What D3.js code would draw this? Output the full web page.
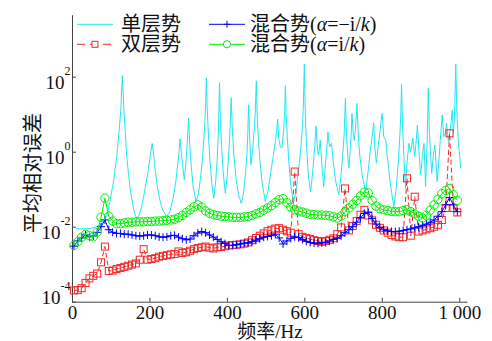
<!DOCTYPE html>
<html>
<head>
<meta charset="utf-8">
<script src="https://cdn.jsdelivr.net/npm/d3@7/dist/d3.min.js"></script>
<style>
  body { margin: 0; background: #fff; }
  svg { display: block; }
</style>
</head>
<body>
<div id="chart"></div>
<script>
// frequency grid of the three marker series (Hz)
const freq = [5,15,25,35,45,55,65,75,85,95,105,115,125,135,145,155,165,175,185,195,
  205,215,225,235,245,255,265,275,285,295,305,315,325,335,345,355,365,375,385,395,
  405,415,425,435,445,455,465,475,485,495,505,515,525,535,545,555,565,575,585,595,
  605,615,625,635,645,655,665,675,685,695,705,715,725,735,745,755,765,775,785,795,
  805,815,825,835,845,855,865,875,885,895,905,915,925,935,945,955,965,975,985,995];

// 双层势, log10 of mean relative error
const doubleLog10 = [-3.7,-3.69,-3.64,-3.5,-3.38,-3.31,-3.25,-2.95,-2.53,-3.18,
  -3.17,-3.13,-3.1,-3.07,-3.04,-3.01,-2.98,-2.88,-2.6,-2.88,
  -2.86,-2.84,-2.8,-2.78,-2.76,-2.74,-2.73,-2.66,-2.7,-2.68,
  -2.64,-2.6,-2.57,-2.55,-2.53,-2.56,-2.58,-2.55,-2.54,-2.52,
  -2.5,-2.49,-2.48,-2.47,-2.45,-2.42,-2.36,-2.3,-2.24,-2.18,
  -2.12,-2.08,-2.05,-2.04,-2.08,-2.12,-2.16,-0.53,-2.2,-2.27,
  -2.3,-2.33,-2.36,-2.38,-2.4,-2.38,-2.35,-2.31,-2.2,-2.02,
  -0.98,-2.1,-1.98,-1.85,-1.68,-1.55,-1.7,-1.83,-1.95,-2.03,
  -2.1,-2.16,-2.22,-2.26,-2.28,-2.28,-0.71,-2.24,-1.2,-2.13,
  -2.1,-2.07,-2.04,-2.0,-1.95,-1.82,-1.5,0.49,-1.5,-1.62];

// 混合势 (alpha = -i/k)
const mixNegLog10 = [-2.52,-2.38,-2.3,-2.22,-2.27,-2.25,-2.15,-2.0,-1.82,-2.08,
  -2.15,-2.18,-2.18,-2.2,-2.2,-2.22,-2.24,-2.25,-2.24,-2.22,
  -2.22,-2.24,-2.27,-2.28,-2.27,-2.24,-2.23,-2.28,-2.32,-2.35,
  -2.33,-2.24,-2.17,-2.13,-2.16,-2.22,-2.28,-2.34,-2.4,-2.45,
  -2.5,-2.5,-2.48,-2.46,-2.44,-2.43,-2.4,-2.36,-2.32,-2.28,
  -2.26,-2.24,-2.2,-2.3,-2.46,-2.38,-2.31,-2.27,-2.29,-2.34,
  -2.39,-2.42,-2.44,-2.44,-2.43,-2.42,-2.38,-2.34,-2.31,-2.24,
  -2.16,-2.08,-2.0,-1.88,-1.76,-1.65,-1.62,-1.78,-1.93,-2.02,
  -2.08,-2.11,-2.13,-2.13,-2.12,-2.1,-2.08,-2.06,-2.03,-2.0,
  -1.96,-1.93,-1.88,-1.82,-1.72,-1.6,-1.42,-1.22,-1.42,-1.6];

// 混合势 (alpha = i/k)
const mixPosLog10 = [-2.5,-2.4,-2.28,-2.2,-2.24,-2.27,-2.15,-1.75,-1.24,-1.72,
  -1.85,-1.92,-1.92,-1.9,-1.88,-1.88,-1.87,-1.87,-1.87,-1.86,
  -1.86,-1.85,-1.85,-1.84,-1.83,-1.82,-1.8,-1.76,-1.7,-1.62,
  -1.55,-1.47,-1.42,-1.48,-1.58,-1.64,-1.68,-1.7,-1.72,-1.73,
  -1.74,-1.75,-1.75,-1.75,-1.74,-1.73,-1.7,-1.66,-1.62,-1.56,
  -1.5,-1.44,-1.36,-1.28,-1.25,-1.36,-1.48,-1.55,-1.58,-1.61,
  -1.64,-1.67,-1.68,-1.69,-1.69,-1.7,-1.71,-1.74,-1.77,-1.72,
  -1.6,-1.5,-1.4,-1.3,-1.18,-1.08,-1.1,-1.3,-1.45,-1.52,
  -1.55,-1.57,-1.59,-1.6,-1.6,-1.57,-1.55,-1.6,-1.66,-1.72,
  -1.77,-1.7,-1.56,-1.42,-1.27,-1.12,-1.03,-0.98,-1.15,-1.3];

// 单层势: [frequency Hz, log10 error], plain line, own sampling
const singlePoints = [
  [10,-2.05],[30,-2.06],[50,-2.04],[70,-1.98],[82,-1.85],[90,-1.7],[98,-1.33],[107,-0.8],[116,-0.09],[122,0.6],
  [126,1.1],[130,2.03],[134,1.1],[138,0.45],[141,-0.09],[146,-0.6],[150,-0.97],[156,-1.35],[161,-1.62],[167,-1.78],
  [173,-1.7],[179,-1.5],[185,-1.2],[192,-0.8],[198,-0.4],[203,-0.05],[207,0.22],[211,-0.1],[215,-0.5],[220,-0.9],
  [227,-1.3],[235,-1.58],[245,-1.73],[253,-1.6],[261,-1.25],[268,-0.8],[273,-0.35],[277,0.05],[279,0.34],[282,0.0],
  [286,-0.4],[290,-0.75],[294,-0.3],[298,0.3],[301,0.89],[304,0.2],[308,-0.4],[313,-0.95],[320,-1.33],[327,-1.1],
  [333,-0.6],[338,-0.05],[342,0.6],[345,1.2],[347,1.97],[349,1.2],[352,0.5],[356,-0.2],[361,-0.85],[366,-1.24],
  [371,-0.8],[375,-0.2],[378,0.5],[381,1.84],[383,0.9],[386,0.2],[390,-0.5],[396,-1.11],[401,-0.6],[405,0.0],
  [408,0.6],[411,1.44],[414,0.6],[418,-0.1],[424,-0.75],[430,-1.15],[437,-1.38],[443,-1.1],[448,-0.6],[452,0.0],
  [454,0.5],[456,1.25],[459,0.3],[462,-0.35],[466,0.0],[470,0.5],[473,1.0],[476,1.89],[478,1.0],[481,0.4],
  [485,-0.2],[490,-0.75],[499,-1.33],[507,-1.0],[514,-0.5],[520,-0.1],[525,0.25],[529,0.6],[531,0.87],[534,0.35],
  [538,0.13],[542,0.1],[546,0.5],[549,1.0],[551,1.76],[553,1.0],[556,0.4],[560,-0.3],[565,-0.9],[572,-1.38],
  [579,-1.0],[585,-0.5],[590,0.0],[594,0.5],[597,1.1],[600,2.33],[602,1.2],[605,0.3],[610,-0.6],[616,-1.07],
  [621,-0.6],[625,-0.1],[628,0.3],[630,0.69],[633,0.2],[636,-0.09],[639,0.1],[641,0.31],[645,-0.3],[650,-0.93],
  [654,-0.4],[658,0.1],[661,0.52],[664,0.2],[666,0.13],[670,0.22],[674,-0.2],[680,-0.75],[689,-1.15],[694,-0.7],
  [699,-0.1],[703,0.5],[706,1.42],[709,0.4],[712,-0.1],[715,-0.44],[718,0.0],[721,0.5],[723,1.02],[726,0.5],
  [729,0.3],[732,0.6],[736,1.29],[739,0.5],[743,-0.1],[749,-0.6],[758,-1.07],[765,-0.5],[770,0.0],[775,0.4],
  [779,0.76],[782,0.1],[786,-0.3],[790,0.1],[795,0.5],[798,0.8],[801,1.02],[805,0.4],[810,0.31],[815,-0.2],
  [822,-0.85],[831,-1.47],[838,-0.9],[843,-0.2],[847,0.5],[849,1.0],[851,1.8],[853,0.9],[856,0.1],[861,-0.98],
  [865,-0.3],[870,0.22],[875,0.0],[880,0.36],[885,-0.13],[889,0.3],[892,0.71],[896,0.0],[900,-0.62],[905,-0.1],
  [909,0.22],[913,-0.93],[917,0.2],[920,1.69],[923,0.5],[926,-0.1],[929,-0.58],[933,-0.1],[937,0.18],[940,-0.3],
  [943,-0.8],[947,-0.3],[951,0.3],[956,0.98],[960,0.4],[964,0.5],[967,0.76],[972,0.27],[977,0.6],[982,1.11],
  [985,0.49],[988,1.0],[991,2.33],[994,1.0],[998,0.2],[1004,-0.44]
];

const xTicks = [0, 200, 400, 600, 800, 1000];
const yTicks = [1e-4, 1e-2, 1, 1e2];
const yExp = ["-4", "-2", "0", "2"];

const width = 492, height = 341;
const serif = "'Liberation Serif','Times New Roman','Noto Sans CJK SC',serif";
const cCyan = "#22e6f2", cRed = "#f02828", cBlue = "#0000ff", cGreen = "#00ee00";

const svg = d3.select("#chart").append("svg")
  .attr("width", width)
  .attr("height", height)
  .style("font-family", serif);

const x = d3.scaleLinear().domain([0, 1020]).range([72, 467]);
const y = d3.scaleLog().domain([1e-4, 4500]).range([301.7, 14.7]);

const pt = (f, v) => [x(f), y(Math.pow(10, v))];

// x axis, ticks pointing inward
const gx = svg.append("g")
  .attr("transform", `translate(0,${y.range()[0]})`)
  .call(d3.axisBottom(x).tickValues(xTicks).tickSizeInner(-4).tickSizeOuter(0).tickPadding(4)
    .tickFormat(d => d === 1000 ? "1 000" : d));
gx.attr("font-family", serif).attr("font-size", 19);
gx.selectAll("path,line").attr("stroke", "#444");
gx.selectAll("text").attr("fill", "#111");

// y axis with 10^n labels
const gy = svg.append("g")
  .attr("transform", `translate(${x.range()[0]},0)`)
  .call(d3.axisLeft(y).tickValues(yTicks).tickSizeInner(-4).tickSizeOuter(0).tickFormat(""));
gy.selectAll("path,line").attr("stroke", "#444");
gy.selectAll(".tick").each(function(d, i) {
  const ty = y(d);
  const t = d3.select(this).append("text")
    .attr("x", -1.5)
    .attr("y", Math.min(11.6, 303 - ty))
    .attr("text-anchor", "end")
    .attr("fill", "#111")
    .attr("font-family", serif)
    .attr("font-size", 19);
  t.append("tspan").text("10");
  t.append("tspan").attr("dy", -14).attr("font-size", 12).text(yExp[i]);
});

// axis titles
svg.append("text")
  .attr("x", 270).attr("y", 337.5)
  .attr("text-anchor", "middle")
  .attr("font-size", 19)
  .attr("fill", "#111")
  .text("频率/Hz");

svg.append("text")
  .attr("transform", "translate(40,173) rotate(-90)")
  .attr("text-anchor", "middle")
  .attr("font-size", 20)
  .attr("fill", "#111")
  .text("平均相对误差");

// series
const line = d3.line();

svg.append("path")
  .attr("d", line(singlePoints.map(d => pt(d[0], d[1]))))
  .attr("fill", "none")
  .attr("stroke", cCyan)
  .attr("stroke-width", 1);

const doublePts = freq.map((f, i) => pt(f, doubleLog10[i]));
svg.append("path")
  .attr("d", line(doublePts))
  .attr("fill", "none")
  .attr("stroke", cRed)
  .attr("stroke-width", 1)
  .attr("stroke-dasharray", "5,3");
svg.append("g").selectAll("rect")
  .data(doublePts)
  .join("rect")
  .attr("x", d => d[0] - 3.5).attr("y", d => d[1] - 3.5)
  .attr("width", 7).attr("height", 7)
  .attr("fill", "none")
  .attr("stroke", cRed)
  .attr("stroke-width", 1);

const negPts = freq.map((f, i) => pt(f, mixNegLog10[i]));
svg.append("path")
  .attr("d", line(negPts))
  .attr("fill", "none")
  .attr("stroke", cBlue)
  .attr("stroke-width", 1);
svg.append("g").selectAll("path")
  .data(negPts)
  .join("path")
  .attr("d", d => `M${d[0]-4},${d[1]}H${d[0]+4}M${d[0]},${d[1]-4}V${d[1]+4}`)
  .attr("stroke", cBlue)
  .attr("stroke-width", 1);

const posPts = freq.map((f, i) => pt(f, mixPosLog10[i]));
svg.append("path")
  .attr("d", line(posPts))
  .attr("fill", "none")
  .attr("stroke", cGreen)
  .attr("stroke-width", 1);
svg.append("g").selectAll("circle")
  .data(posPts)
  .join("circle")
  .attr("cx", d => d[0]).attr("cy", d => d[1])
  .attr("r", 4.2)
  .attr("fill", "none")
  .attr("stroke", cGreen)
  .attr("stroke-width", 1);

// legend, no frame
const lg = svg.append("g");
const rows = [24.3, 44.3];
lg.append("line").attr("x1", 77).attr("x2", 113).attr("y1", rows[0]).attr("y2", rows[0])
  .attr("stroke", cCyan);
lg.append("line").attr("x1", 77).attr("x2", 113).attr("y1", rows[1]).attr("y2", rows[1])
  .attr("stroke", cRed).attr("stroke-dasharray", "8,5");
lg.append("rect").attr("x", 92).attr("y", rows[1] - 3).attr("width", 6).attr("height", 6)
  .attr("fill", "#fff").attr("stroke", cRed);
lg.append("line").attr("x1", 209).attr("x2", 245).attr("y1", rows[0]).attr("y2", rows[0])
  .attr("stroke", cBlue);
lg.append("path").attr("d", `M223.5,${rows[0]}H230.5M227,${rows[0]-3.5}V${rows[0]+3.5}`)
  .attr("stroke", cBlue);
lg.append("line").attr("x1", 209).attr("x2", 245).attr("y1", rows[1]).attr("y2", rows[1])
  .attr("stroke", cGreen);
lg.append("circle").attr("cx", 227).attr("cy", rows[1]).attr("r", 3.6)
  .attr("fill", "#fff").attr("stroke", cGreen);

const lt = (xx, yy) => lg.append("text").attr("x", xx).attr("y", yy + 7)
  .attr("font-size", 20).attr("fill", "#111");
lt(121, rows[0]).text("单层势");
lt(121, rows[1]).text("双层势");
const mixLabel = (yy, sign) => {
  const t = lt(250, yy);
  t.append("tspan").text("混合势(");
  t.append("tspan").attr("font-style", "italic").text("α");
  t.append("tspan").text(sign + "i/");
  t.append("tspan").attr("font-style", "italic").text("k");
  t.append("tspan").text(")");
};
mixLabel(rows[0], "=−");
mixLabel(rows[1], "=");
</script>
</body>
</html>
